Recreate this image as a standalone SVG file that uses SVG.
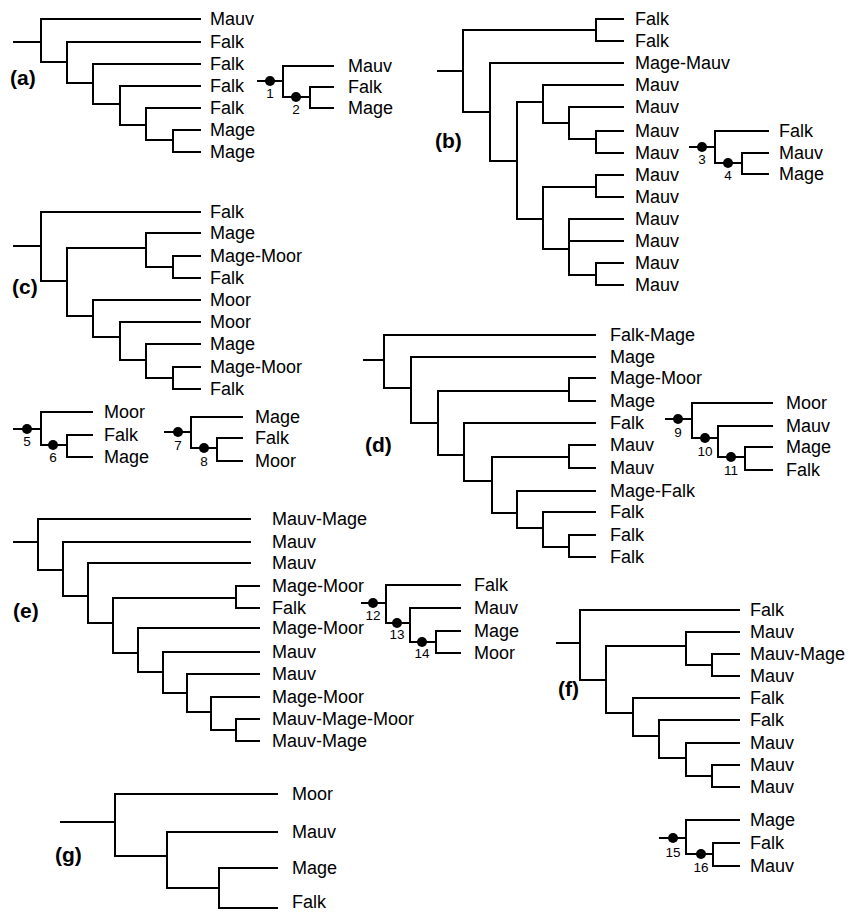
<svg xmlns="http://www.w3.org/2000/svg" width="859" height="913" viewBox="0 0 859 913">
<style>
.br{fill:none;stroke:#000;stroke-width:2;stroke-linecap:square}
.t{font-family:"Liberation Sans",Arial,sans-serif;font-size:18px;fill:#000}
.p{font-family:"Liberation Sans",Arial,sans-serif;font-size:21px;font-weight:bold;fill:#000}
.n{font-family:"Liberation Sans",Arial,sans-serif;font-size:13.5px;fill:#000;text-anchor:middle}
.d{fill:#000}
</style>
<rect width="859" height="913" fill="#fff"/>
<g id="connectors">
<path class="br" d="M14,42 H41 M41,19 V62 M41,19 H200 M41,62 H67 M67,42 V83 M67,42 H200 M67,83 H93 M93,64 V104 M93,64 H200 M93,104 H120 M120,86 V125 M120,86 H200 M120,125 H146 M146,108 V140 M146,108 H200 M146,140 H173 M173,130 V152 M173,130 H200 M173,152 H200"/>
<path class="br" d="M258,81 H283 M283,66 V97 M283,66 H333 M283,97 H310 M310,87 V108 M310,87 H333 M310,108 H333"/>
<path class="br" d="M438,71 H463 M463,30 V112 M463,30 H596 M596,19 V41 M596,19 H623 M596,41 H623 M463,112 H490 M490,63 V161 M490,63 H623 M490,161 H517 M517,102 V219 M517,102 H543 M543,85 V123 M543,85 H623 M543,123 H569 M569,107 V139 M569,107 H623 M569,139 H596 M596,131 V153 M596,131 H623 M596,153 H623 M517,219 H543 M543,187 V249 M543,187 H596 M596,175 V197 M596,175 H623 M596,197 H623 M543,249 H569 M569,219 V275 M569,219 H623 M569,241 H623 M569,275 H596 M596,263 V285 M596,263 H623 M596,285 H623"/>
<path class="br" d="M690,147 H715 M715,131 V163 M715,131 H768 M715,163 H742 M742,153 V174 M742,153 H768 M742,174 H768"/>
<path class="br" d="M14,246 H41 M41,212 V281 M41,212 H200 M41,281 H67 M67,248 V316 M67,248 H146 M146,233 V267 M146,233 H200 M146,267 H173 M173,256 V278 M173,256 H200 M173,278 H200 M67,316 H93 M93,300 V337 M93,300 H200 M93,337 H120 M120,322 V360 M120,322 H200 M120,360 H146 M146,344 V378 M146,344 H200 M146,378 H173 M173,367 V389 M173,367 H200 M173,389 H200"/>
<path class="br" d="M14,429 H41 M41,412 V445 M41,412 H92 M41,445 H67 M67,435 V457 M67,435 H92 M67,457 H92"/>
<path class="br" d="M165,432 H191 M191,417 V448 M191,417 H242 M191,448 H217 M217,438 V461 M217,438 H242 M217,461 H242"/>
<path class="br" d="M364,360 H384 M384,335 V388 M384,335 H595 M384,388 H411 M411,357 V423 M411,357 H595 M411,423 H438 M438,391 V455 M438,391 H569 M569,378 V401 M569,378 H595 M569,401 H595 M438,455 H464 M464,423 V481 M464,423 H595 M464,481 H492 M492,457 V513 M492,457 H569 M569,445 V468 M569,445 H595 M569,468 H595 M492,513 H517 M517,491 V528 M517,491 H595 M517,528 H543 M543,512 V547 M543,512 H595 M543,547 H569 M569,535 V557 M569,535 H595 M569,557 H595"/>
<path class="br" d="M666,419 H692 M692,403 V438 M692,403 H772 M692,438 H718 M718,426 V457 M718,426 H772 M718,457 H745 M745,447 V470 M745,447 H772 M745,470 H772"/>
<path class="br" d="M14,542 H38 M38,519 V570 M38,519 H250 M38,570 H63 M63,542 V596 M63,542 H250 M63,596 H88 M88,563 V623 M88,563 H250 M88,623 H113 M113,598 V653 M113,598 H236 M236,586 V608 M236,586 H259 M236,608 H259 M113,653 H138 M138,628 V672 M138,628 H259 M138,672 H163 M163,652 V693 M163,652 H259 M163,693 H187 M187,674 V712 M187,674 H259 M187,712 H211 M211,697 V730 M211,697 H259 M211,730 H236 M236,719 V741 M236,719 H259 M236,741 H259"/>
<path class="br" d="M362,603 H386 M386,585 V623 M386,585 H460 M386,623 H410 M410,608 V642 M410,608 H460 M410,642 H436 M436,631 V653 M436,631 H460 M436,653 H460"/>
<path class="br" d="M557,643 H580 M580,610 V680 M580,610 H739 M580,680 H606 M606,646 V713 M606,646 H686 M686,632 V665 M686,632 H739 M686,665 H712 M712,654 V676 M712,654 H739 M712,676 H739 M606,713 H633 M633,698 V736 M633,698 H739 M633,736 H659 M659,720 V758 M659,720 H739 M659,758 H686 M686,743 V776 M686,743 H739 M686,776 H712 M712,765 V787 M712,765 H739 M712,787 H739"/>
<path class="br" d="M660,838 H686 M686,820 V854 M686,820 H739 M686,854 H713 M713,843 V866 M713,843 H739 M713,866 H739"/>
<path class="br" d="M61,822 H115 M115,794 V856 M115,794 H277 M115,856 H167 M167,832 V888 M167,832 H277 M167,888 H219 M219,868 V908 M219,868 H277 M219,908 H277"/>
</g>
<g id="tree-a">
<text class="p" x="10" y="85">(a)</text>
<text class="t" x="210" y="25">Mauv</text><text class="t" x="210" y="48">Falk</text><text class="t" x="210" y="70">Falk</text><text class="t" x="210" y="92">Falk</text><text class="t" x="210" y="114">Falk</text><text class="t" x="210" y="136">Mage</text><text class="t" x="210" y="158">Mage</text>
</g>
<g id="inset-a">
<g id="node-1"><circle class="d" cx="270" cy="81" r="5"/><text class="n" x="270" y="98">1</text></g>
<g id="node-2"><circle class="d" cx="296" cy="97" r="5"/><text class="n" x="296" y="114">2</text></g>
<text class="t" x="348" y="72">Mauv</text><text class="t" x="348" y="93">Falk</text><text class="t" x="348" y="114">Mage</text>
</g>
<g id="tree-b">
<text class="p" x="435" y="148">(b)</text>
<text class="t" x="635" y="25">Falk</text><text class="t" x="635" y="47">Falk</text><text class="t" x="635" y="69">Mage-Mauv</text><text class="t" x="635" y="91">Mauv</text><text class="t" x="635" y="113">Mauv</text><text class="t" x="635" y="137">Mauv</text><text class="t" x="635" y="159">Mauv</text><text class="t" x="635" y="181">Mauv</text><text class="t" x="635" y="203">Mauv</text><text class="t" x="635" y="225">Mauv</text><text class="t" x="635" y="247">Mauv</text><text class="t" x="635" y="269">Mauv</text><text class="t" x="635" y="291">Mauv</text>
</g>
<g id="inset-b">
<g id="node-3"><circle class="d" cx="702" cy="147" r="5"/><text class="n" x="702" y="164">3</text></g>
<g id="node-4"><circle class="d" cx="728" cy="163" r="5"/><text class="n" x="728" y="180">4</text></g>
<text class="t" x="779" y="137">Falk</text><text class="t" x="779" y="159">Mauv</text><text class="t" x="779" y="180">Mage</text>
</g>
<g id="tree-c">
<text class="p" x="12" y="294">(c)</text>
<text class="t" x="210" y="218">Falk</text><text class="t" x="210" y="239">Mage</text><text class="t" x="210" y="262">Mage-Moor</text><text class="t" x="210" y="284">Falk</text><text class="t" x="210" y="306">Moor</text><text class="t" x="210" y="328">Moor</text><text class="t" x="210" y="350">Mage</text><text class="t" x="210" y="373">Mage-Moor</text><text class="t" x="210" y="395">Falk</text>
</g>
<g id="inset-c1">
<g id="node-5"><circle class="d" cx="27" cy="429" r="5"/><text class="n" x="27" y="446">5</text></g>
<g id="node-6"><circle class="d" cx="53" cy="445" r="5"/><text class="n" x="53" y="462">6</text></g>
<text class="t" x="104" y="418">Moor</text><text class="t" x="104" y="441">Falk</text><text class="t" x="104" y="463">Mage</text>
</g>
<g id="inset-c2">
<g id="node-7"><circle class="d" cx="178" cy="432" r="5"/><text class="n" x="178" y="450">7</text></g>
<g id="node-8"><circle class="d" cx="204" cy="448" r="5"/><text class="n" x="204" y="466">8</text></g>
<text class="t" x="255" y="423">Mage</text><text class="t" x="255" y="444">Falk</text><text class="t" x="255" y="467">Moor</text>
</g>
<g id="tree-d">
<text class="p" x="365" y="452">(d)</text>
<text class="t" x="610" y="341">Falk-Mage</text><text class="t" x="610" y="363">Mage</text><text class="t" x="610" y="384">Mage-Moor</text><text class="t" x="610" y="407">Mage</text><text class="t" x="610" y="429">Falk</text><text class="t" x="610" y="451">Mauv</text><text class="t" x="610" y="474">Mauv</text><text class="t" x="610" y="497">Mage-Falk</text><text class="t" x="610" y="518">Falk</text><text class="t" x="610" y="541">Falk</text><text class="t" x="610" y="563">Falk</text>
</g>
<g id="inset-d">
<g id="node-9"><circle class="d" cx="678" cy="419" r="5"/><text class="n" x="678" y="437">9</text></g>
<g id="node-10"><circle class="d" cx="705" cy="438" r="5"/><text class="n" x="705" y="456">10</text></g>
<g id="node-11"><circle class="d" cx="731" cy="457" r="5"/><text class="n" x="731" y="475">11</text></g>
<text class="t" x="786" y="409">Moor</text><text class="t" x="786" y="432">Mauv</text><text class="t" x="786" y="453">Mage</text><text class="t" x="786" y="476">Falk</text>
</g>
<g id="tree-e">
<text class="p" x="13" y="618">(e)</text>
<text class="t" x="272" y="525">Mauv-Mage</text><text class="t" x="272" y="548">Mauv</text><text class="t" x="272" y="569">Mauv</text><text class="t" x="272" y="592">Mage-Moor</text><text class="t" x="272" y="614">Falk</text><text class="t" x="272" y="634">Mage-Moor</text><text class="t" x="272" y="658">Mauv</text><text class="t" x="272" y="680">Mauv</text><text class="t" x="272" y="703">Mage-Moor</text><text class="t" x="272" y="725">Mauv-Mage-Moor</text><text class="t" x="272" y="747">Mauv-Mage</text>
</g>
<g id="inset-e">
<g id="node-12"><circle class="d" cx="373" cy="603" r="5"/><text class="n" x="373" y="620">12</text></g>
<g id="node-13"><circle class="d" cx="397" cy="623" r="5"/><text class="n" x="397" y="639">13</text></g>
<g id="node-14"><circle class="d" cx="422" cy="642" r="5"/><text class="n" x="422" y="658">14</text></g>
<text class="t" x="474" y="591">Falk</text><text class="t" x="474" y="614">Mauv</text><text class="t" x="474" y="637">Mage</text><text class="t" x="474" y="659">Moor</text>
</g>
<g id="tree-f">
<text class="p" x="558" y="696">(f)</text>
<text class="t" x="750" y="616">Falk</text><text class="t" x="750" y="638">Mauv</text><text class="t" x="750" y="660">Mauv-Mage</text><text class="t" x="750" y="682">Mauv</text><text class="t" x="750" y="704">Falk</text><text class="t" x="750" y="726">Falk</text><text class="t" x="750" y="749">Mauv</text><text class="t" x="750" y="771">Mauv</text><text class="t" x="750" y="793">Mauv</text>
</g>
<g id="inset-f">
<g id="node-15"><circle class="d" cx="673" cy="838" r="5"/><text class="n" x="673" y="857">15</text></g>
<g id="node-16"><circle class="d" cx="701" cy="854" r="5"/><text class="n" x="701" y="872">16</text></g>
<text class="t" x="750" y="826">Mage</text><text class="t" x="750" y="849">Falk</text><text class="t" x="750" y="872">Mauv</text>
</g>
<g id="tree-g">
<text class="p" x="55" y="862">(g)</text>
<text class="t" x="292" y="800">Moor</text><text class="t" x="292" y="838">Mauv</text><text class="t" x="292" y="874">Mage</text><text class="t" x="292" y="908">Falk</text>
</g>
</svg>
